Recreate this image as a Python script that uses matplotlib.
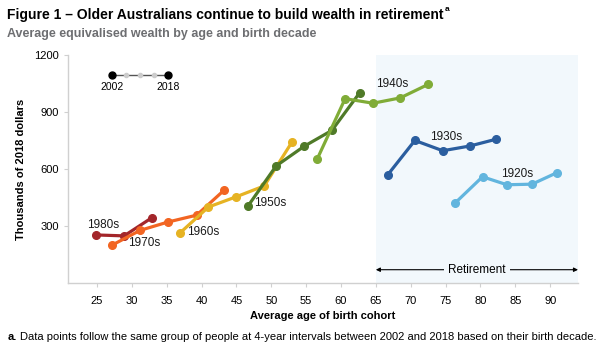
import matplotlib
matplotlib.use("Agg")
import matplotlib.pyplot as plt

plt.rcParams['font.family'] = ['Liberation Sans', 'DejaVu Sans']

# Average equivalised wealth ($'000, 2018 dollars) by average age, per birth decade
cohorts = ["1980s", "1970s", "1960s", "1950s", "1940s", "1930s", "1920s"]
ages = {
    "1980s": [24.8, 28.9, 32.9],
    "1970s": [27.2, 31.2, 35.2, 39.3, 43.2],
    "1960s": [36.9, 41.0, 45.0, 49.0, 53.0],
    "1950s": [46.7, 50.7, 54.7, 58.7, 62.7],
    "1940s": [56.6, 60.6, 64.6, 68.5, 72.5],
    "1930s": [66.7, 70.6, 74.6, 78.5, 82.3],
    "1920s": [76.4, 80.3, 83.8, 87.4, 91.0],
}
wealth = {
    "1980s": [253, 248, 344],
    "1970s": [200, 277, 321, 357, 487],
    "1960s": [263, 400, 454, 511, 743],
    "1950s": [407, 616, 719, 803, 1002],
    "1940s": [653, 970, 946, 974, 1045],
    "1930s": [569, 750, 696, 721, 757],
    "1920s": [422, 559, 517, 520, 581],
}
colors = {
    "1980s": "#a3262a",
    "1970s": "#f26522",
    "1960s": "#e6b323",
    "1950s": "#4f7a28",
    "1940s": "#80ac37",
    "1930s": "#2b5e9f",
    "1920s": "#62b5de",
}
label_pos = {
    "1980s": (25.9, 307),
    "1970s": (31.8, 213),
    "1960s": (40.2, 270),
    "1950s": (49.9, 422),
    "1940s": (67.3, 1045),
    "1930s": (75.1, 768),
    "1920s": (85.2, 574),
}
x_ticks = [25, 30, 35, 40, 45, 50, 55, 60, 65, 70, 75, 80, 85, 90]
y_ticks = [300, 600, 900, 1200]
retirement_age = 65

fig = plt.figure(figsize=(5.99, 3.5), dpi=100)
ax = fig.add_axes([0.1135, 0.1914, 0.8515, 0.6516])
ax.set_xlim(20.85, 94.0)
ax.set_ylim(0, 1200)

# Retirement band
ax.axvspan(retirement_age, 94.0, color="#f2f8fc", zorder=0, lw=0)
ax.annotate("", xy=(retirement_age, 70), xytext=(94.0, 70),
            arrowprops=dict(arrowstyle="<|-|>", color="black", lw=0.8,
                            mutation_scale=6, shrinkA=0, shrinkB=0))
ax.text(79.5, 70, "Retirement", ha="center", va="center", fontsize=8.5,
        bbox=dict(facecolor="#f2f8fc", edgecolor="none", pad=3))

for c in cohorts:
    ax.plot(ages[c], wealth[c], color=colors[c], lw=2.3, marker="o",
            markersize=5.5, zorder=3)
    lx, ly = label_pos[c]
    ax.text(lx, ly, c, ha="center", va="center", fontsize=8.5, color="#1a1a1a",
            zorder=4)

# Legend showing the 2002 -> 2018 direction
leg_x = [27.1, 29.1, 31.2, 33.2, 35.2]
leg_y = 1094
ax.plot(leg_x, [leg_y] * 5, color="#555555", lw=1, zorder=3)
ax.plot(leg_x[1:4], [leg_y] * 3, "o", color="#cccccc", markersize=3, zorder=4)
ax.plot([leg_x[0], leg_x[-1]], [leg_y] * 2, "o", color="black", markersize=5, zorder=4)
ax.text(leg_x[0], 1032, "2002", ha="center", va="center", fontsize=7.5)
ax.text(leg_x[-1], 1032, "2018", ha="center", va="center", fontsize=7.5)

for s in ["top", "right"]:
    ax.spines[s].set_visible(False)
for s in ["left", "bottom"]:
    ax.spines[s].set_color("#d0d0d0")
    ax.spines[s].set_linewidth(1)
ax.set_xticks(x_ticks)
ax.set_yticks(y_ticks)
ax.tick_params(axis="both", colors="#d0d0d0", labelcolor="black", labelsize=8,
               length=3, width=0.8)
ax.tick_params(axis="x", pad=6)

ax.set_xlabel("Average age of birth cohort", fontsize=8, fontweight="bold",
              labelpad=4)
ax.set_ylabel("Thousands of 2018 dollars", fontsize=8, fontweight="bold",
              labelpad=6)

title = fig.text(0.012, 0.958,
                 "Figure 1 – Older Australians continue to build wealth in retirement",
                 fontsize=10, fontweight="bold", va="center", ha="left")
fig.canvas.draw()
bb = title.get_window_extent().transformed(fig.transFigure.inverted())
fig.text(bb.x1 + 0.002, 0.972, "a", fontsize=6, fontweight="bold", va="center", ha="left")
fig.text(0.012, 0.903, "Average equivalised wealth by age and birth decade",
         fontsize=9, fontweight="bold", color="#6d6e71", va="center", ha="left")
fig.text(0.012, 0.037, "a.", fontsize=8, fontweight="bold", va="center", ha="left")
fig.text(0.033, 0.037,
         "Data points follow the same group of people at 4-year intervals between 2002 and 2018 based on their birth decade.",
         fontsize=8, va="center", ha="left")

fig.savefig("out.png", dpi=100)
